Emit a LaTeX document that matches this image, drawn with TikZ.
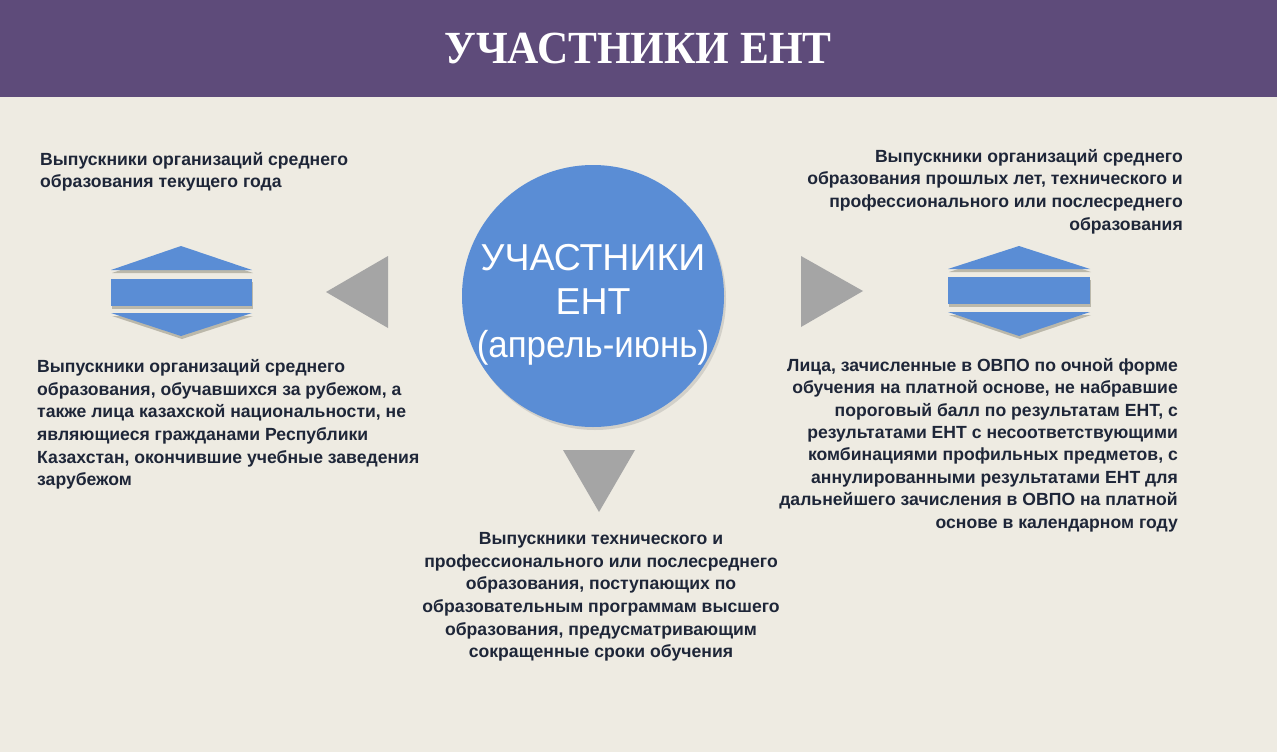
\documentclass[tikz,border=0pt]{standalone}
\usepackage{fontspec}
\setmainfont{Liberation Sans}
\newfontfamily\titlefont{Liberation Serif}
\usetikzlibrary{shadows}
\definecolor{bg}{HTML}{EEEBE2}
\definecolor{band}{HTML}{5E4B7A}
\definecolor{blueF}{HTML}{5A8DD5}
\definecolor{grayT}{HTML}{A5A5A5}
\definecolor{txt}{HTML}{1E2638}
\definecolor{shade}{HTML}{7F7A68}
\tikzset{
  desc/.style={font=\bfseries\fontsize{17.6}{22.7}\selectfont, text=txt, inner sep=0pt},
  hexpart/.style={fill=blueF, drop shadow={opacity=0.45, shadow xshift=1pt, shadow yshift=-3pt, fill=shade}},
  pointer/.style={fill=grayT},
  hub/.style={circle, fill=blueF, minimum size=262pt, inner sep=0pt, drop shadow={opacity=0.25, shadow xshift=2pt, shadow yshift=-3pt}},
}
\begin{document}
\begin{tikzpicture}[x=1pt,y=-1pt]
\fill[bg] (0,0) rectangle (1277,752);
\useasboundingbox (0,0) rectangle (1277,752);
\fill[band] (0,0) rectangle (1277,97);
\node[text=white, font=\titlefont\bfseries\fontsize{46}{50}\selectfont, inner sep=0pt] (title) at (638,48) {\scalebox{0.94}[1]{УЧАСТНИКИ ЕНТ}};

% central circle
\node[hub] (hub) at (593,296) {};
\node[text=white, align=center, font=\fontsize{37.5}{43.5}\selectfont, inner sep=0pt] (hubtext) at (593,305) {УЧАСТНИКИ\\ЕНТ\\\scalebox{0.93}[1]{(апрель-июнь)}};

% pointers
\fill[pointer] (326,292) -- (388,256) -- (388,328) -- cycle;
\fill[pointer] (801,256) -- (863,291) -- (801,327) -- cycle;
\fill[pointer] (563,450) -- (635,450) -- (599,512) -- cycle;

% left hexagon
\fill[hexpart] (111,270) -- (181,246) -- (252,270) -- cycle;
\fill[hexpart] (111,279) rectangle (252,306);
\fill[hexpart] (111,313) -- (252,313) -- (181,336) -- cycle;
% right hexagon
\fill[hexpart] (948,269) -- (1019,246) -- (1090,269) -- cycle;
\fill[hexpart] (948,277) rectangle (1090,304);
\fill[hexpart] (948,312) -- (1090,312) -- (1019,336) -- cycle;

% texts
\node[desc, anchor=north west, align=left] (lt) at (40,152) {Выпускники организаций среднего\\образования текущего года};
\node[desc, anchor=north west, align=left] (lb) at (37,359) {Выпускники организаций среднего\\образования, обучавшихся за рубежом, а\\также лица казахской национальности, не\\являющиеся гражданами Республики\\Казахстан, окончившие учебные заведения\\зарубежом};
\node[desc, anchor=north east, align=right] (rt) at (1183,149) {Выпускники организаций среднего\\образования прошлых лет, технического и\\профессионального или послесреднего\\образования};
\node[desc, anchor=north east, align=right, font=\bfseries\fontsize{17.6}{22.4}\selectfont] (rb) at (1178,358) {Лица, зачисленные в ОВПО по очной форме\\обучения на платной основе, не набравшие\\пороговый балл по результатам ЕНТ, с\\результатами ЕНТ с несоответствующими\\комбинациями профильных предметов, с\\аннулированными результатами ЕНТ для\\дальнейшего зачисления в ОВПО на платной\\основе в календарном году};
\node[desc, anchor=north, align=center] (bt) at (601,532) {Выпускники технического и\\профессионального или послесреднего\\образования, поступающих по\\образовательным программам высшего\\образования, предусматривающим\\сокращенные сроки обучения};
\end{tikzpicture}
\end{document}
